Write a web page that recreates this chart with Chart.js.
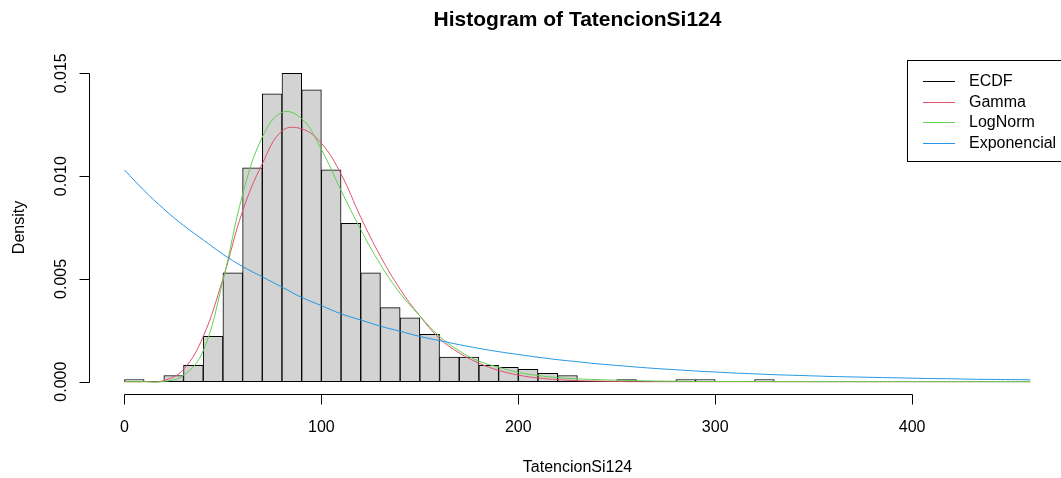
<!DOCTYPE html>
<html>
<head>
<meta charset="utf-8">
<script src="https://cdn.jsdelivr.net/npm/chart.js@4/dist/chart.umd.min.js"></script>
<style>
  html, body { margin: 0; padding: 0; background: #fff; overflow: hidden; }
  canvas { display: block; }
</style>
</head>
<body>
<canvas id="histChart" width="1061" height="478"></canvas>
<script>
// Datos del histograma (ancho de clase 10)
const binWidth = 10;
const binLower = [0, 10, 20, 30, 40, 50, 60, 70, 80, 90, 100, 110, 120, 130, 140, 150, 160,
  170, 180, 190, 200, 210, 220, 230, 240, 250, 260, 270, 280, 290, 300, 310, 320];
const density = [0.0001, 0, 0.0003, 0.0008, 0.0022, 0.0053, 0.0104, 0.0140, 0.0150, 0.0142,
  0.0103, 0.0077, 0.0053, 0.0036, 0.0031, 0.0023, 0.0012, 0.0012, 0.0008, 0.0007, 0.0006,
  0.0004, 0.0003, 0, 0, 0.0001, 0, 0, 0.0001, 0.0001, 0, 0, 0.0001];

// Curvas ajustadas
const curveX = [0, 10, 20, 30, 40, 50, 60, 70, 80, 90, 100, 110, 120, 130, 140, 150, 160, 170,
  180, 190, 200, 210, 220, 230, 240, 250, 260, 270, 280, 290, 300, 310, 320, 330, 340, 350,
  360, 370, 380, 390, 400, 410, 420, 430, 440, 450, 460];
const gammaY = [0, 0, 0.00005, 0.0006, 0.0022, 0.0050, 0.0083, 0.0106, 0.0122, 0.0123, 0.0116,
  0.0101, 0.0080, 0.0061, 0.0045, 0.0032, 0.0021, 0.0014, 0.0009, 0.00055, 0.00032, 0.00018,
  0.0001, 0.00005, 0.00003, 0.00001, 0, 0, 0, 0, 0, 0, 0, 0, 0, 0, 0, 0, 0, 0, 0, 0, 0, 0, 0, 0, 0];
const lognormY = [0, 0, 0.00001, 0.0003, 0.0015, 0.0049, 0.0091, 0.0119, 0.0131, 0.0128, 0.0113,
  0.0093, 0.0074, 0.0057, 0.0043, 0.0032, 0.0022, 0.0015, 0.0010, 0.0007, 0.00045, 0.0003,
  0.0002, 0.00014, 0.0001, 0.00007, 0.00005, 0.00003, 0.00002, 0.00001, 0.00001, 0.00001,
  0.00001, 0, 0, 0, 0, 0, 0, 0, 0, 0, 0, 0, 0, 0, 0];
const expY = [0.0103, 0.0093, 0.0084, 0.0076, 0.0069, 0.0062, 0.0056, 0.0051, 0.0046, 0.0041,
  0.0037, 0.0033, 0.0030, 0.0027, 0.00245, 0.0022, 0.0020, 0.0018, 0.00162, 0.00146, 0.00132,
  0.00119, 0.00107, 0.00097, 0.00087, 0.00079, 0.00071, 0.00064, 0.00058, 0.00052, 0.00047,
  0.00042, 0.00038, 0.00034, 0.00031, 0.00028, 0.00025, 0.00023, 0.00021, 0.00019, 0.00017,
  0.00015, 0.00014, 0.00012, 0.00011, 0.0001, 0.00009];

// Ejes y textos
const xTicks = [0, 100, 200, 300, 400];
const yTicks = [0, 0.005, 0.010, 0.015];
const yTickLabels = ['0.000', '0.005', '0.010', '0.015'];
const legendLabels = ['ECDF', 'Gamma', 'LogNorm', 'Exponencial'];
const legendColors = ['#000000', '#DF536B', '#61D04F', '#2297E6'];
const mainTitle = 'Histogram of TatencionSi124';
const xTitle = 'TatencionSi124';
const yTitle = 'Density';

const FONT = '"Liberation Sans", Arial, sans-serif';

// Plugin para dibujar ejes, títulos y leyenda al estilo de R
const rStyle = {
  id: 'rStyle',
  beforeDatasetsDraw(chart) {
    const { ctx, scales: { x, y } } = chart;
    // clases vacías: R dibuja un rectángulo de altura cero
    const y0 = Math.round(y.getPixelForValue(0)) - 0.5;
    ctx.save();
    ctx.strokeStyle = '#000';
    ctx.lineWidth = 1;
    ctx.beginPath();
    ctx.moveTo(x.getPixelForValue(binLower[0]), y0);
    ctx.lineTo(x.getPixelForValue(binLower[binLower.length - 1] + binWidth), y0);
    ctx.stroke();
    ctx.restore();
  },
  afterDraw(chart) {
    const { ctx, chartArea: a, scales: { x, y } } = chart;
    ctx.save();
    ctx.strokeStyle = '#000';
    ctx.fillStyle = '#000';
    ctx.lineWidth = 1;

    // eje x
    const xa = Math.round(a.bottom) + 0.5;
    ctx.beginPath();
    ctx.moveTo(Math.round(x.getPixelForValue(xTicks[0])) + 0.5, xa);
    ctx.lineTo(Math.round(x.getPixelForValue(xTicks[xTicks.length - 1])) + 0.5, xa);
    xTicks.forEach(v => {
      const px = Math.round(x.getPixelForValue(v)) + 0.5;
      ctx.moveTo(px, xa);
      ctx.lineTo(px, xa + 10);
    });
    ctx.stroke();
    ctx.font = '16px ' + FONT;
    ctx.textAlign = 'center';
    ctx.textBaseline = 'alphabetic';
    xTicks.forEach(v => ctx.fillText(String(v), x.getPixelForValue(v), xa + 37));

    // eje y
    const ya = Math.round(a.left) + 0.5;
    ctx.beginPath();
    ctx.moveTo(ya, Math.round(y.getPixelForValue(yTicks[0])) + 0.5);
    ctx.lineTo(ya, Math.round(y.getPixelForValue(yTicks[yTicks.length - 1])) + 0.5);
    yTicks.forEach(v => {
      const py = Math.round(y.getPixelForValue(v)) + 0.5;
      ctx.moveTo(ya, py);
      ctx.lineTo(ya - 10, py);
    });
    ctx.stroke();
    yTicks.forEach((v, i) => {
      ctx.save();
      ctx.translate(ya - 24, y.getPixelForValue(v));
      ctx.rotate(-Math.PI / 2);
      ctx.fillText(yTickLabels[i], 0, 0);
      ctx.restore();
    });

    // títulos de ejes
    const midX = (a.left + a.right + 5) / 2;
    ctx.fillText(xTitle, midX, 472);
    ctx.save();
    ctx.translate(24, (a.top + a.bottom) / 2);
    ctx.rotate(-Math.PI / 2);
    ctx.fillText(yTitle, 0, 0);
    ctx.restore();

    // título principal
    ctx.font = 'bold 21px ' + FONT;
    ctx.fillText(mainTitle, midX, 26);

    // leyenda
    ctx.strokeStyle = '#000';
    ctx.strokeRect(907.5, 60.5, 170, 101);
    ctx.font = '16px ' + FONT;
    ctx.textAlign = 'left';
    ctx.textBaseline = 'middle';
    legendLabels.forEach((lab, i) => {
      const ly = 81 + i * 20.5;
      ctx.strokeStyle = legendColors[i];
      ctx.beginPath();
      ctx.moveTo(923, Math.round(ly) + 0.5);
      ctx.lineTo(955, Math.round(ly) + 0.5);
      ctx.stroke();
      ctx.fillStyle = '#000';
      ctx.fillText(lab, 969, ly + 1);
    });
    ctx.restore();
  }
};

const lineDataset = (label, ys, color, order) => ({
  type: 'line',
  label: label,
  data: curveX.map((v, i) => ({ x: v, y: ys[i] })),
  borderColor: color,
  borderWidth: 1,
  pointRadius: 0,
  tension: 0.4,
  fill: false,
  order: order
});

const ctx = document.getElementById('histChart').getContext('2d');
new Chart(ctx, {
  type: 'bar',
  data: {
    datasets: [
      {
        label: legendLabels[0],
        data: binLower.map((v, i) => ({ x: v + binWidth / 2, y: density[i] })),
        backgroundColor: '#D3D3D3',
        borderColor: '#000000',
        borderWidth: 1,
        borderSkipped: false,
        barPercentage: 1,
        categoryPercentage: 1,
        order: 10
      },
      lineDataset(legendLabels[1], gammaY, legendColors[1], 3),
      lineDataset(legendLabels[2], lognormY, legendColors[2], 2),
      lineDataset(legendLabels[3], expY, legendColors[3], 1)
    ]
  },
  options: {
    responsive: false,
    animation: false,
    layout: { padding: { left: 89, right: 0, top: 61, bottom: 84 } },
    plugins: {
      legend: { display: false },
      title: { display: false },
      tooltip: { enabled: false }
    },
    scales: {
      x: { type: 'linear', min: -18, max: 475.6, offset: false, display: false },
      y: { min: -0.0006, max: 0.0156, display: false }
    }
  },
  plugins: [rStyle]
});
</script>
</body>
</html>
